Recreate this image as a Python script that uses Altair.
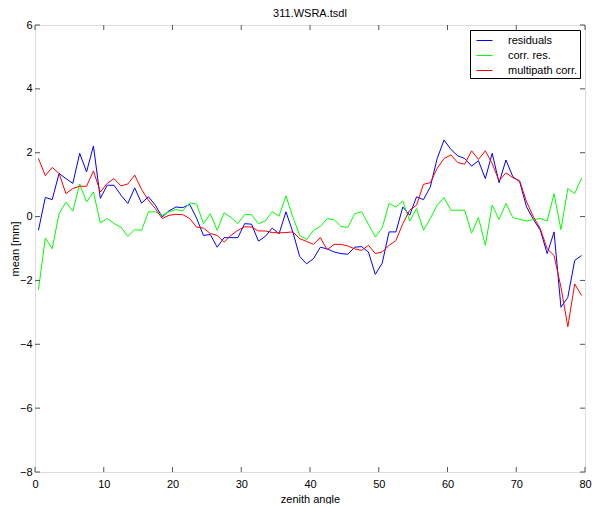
import altair as alt
import pandas as pd

# zenith angle bin centres
angles = [k + 0.5 for k in range(80)]

residuals = [
    -0.43, 0.60, 0.53, 1.35, 1.19, 1.04, 1.98, 1.40, 2.21, 0.57,
    0.98, 0.98, 0.67, 0.41, 0.90, 0.42, 0.62, 0.36, -0.01, 0.18,
    0.30, 0.28, 0.38, -0.05, -0.59, -0.56, -0.96, -0.66, -0.66, -0.66,
    -0.22, -0.24, -0.77, -0.62, -0.36, -0.54, 0.15, -0.48, -1.25, -1.48,
    -1.32, -0.96, -1.01, -1.11, -1.16, -1.18, -0.96, -0.94, -1.11, -1.81,
    -1.46, -0.48, -0.48, 0.30, 0.04, 0.62, 0.53, 0.93, 1.82, 2.40,
    2.10, 1.90, 1.82, 1.58, 1.75, 1.19, 1.98, 1.06, 1.77, 1.25,
    1.09, 0.30, -0.09, -0.43, -1.16, -0.48, -2.84, -2.53, -1.37, -1.22,
]

corr_res = [
    -2.30, -0.67, -1.01, 0.09, 0.45, 0.17, 1.02, 0.46, 0.77, -0.20,
    -0.06, -0.22, -0.33, -0.62, -0.41, -0.43, 0.15, 0.15, 0.04, 0.15,
    0.22, 0.18, 0.43, 0.39, -0.22, 0.09, -0.43, 0.12, -0.03, -0.22,
    0.07, 0.06, -0.22, -0.14, 0.15, 0.01, 0.65, -0.01, -0.59, -0.72,
    -0.43, -0.31, -0.06, -0.10, -0.31, -0.34, 0.09, 0.15, -0.24, -0.64,
    -0.35, 0.41, 0.30, 0.49, -0.14, 0.25, -0.43, -0.06, 0.36, 0.59,
    0.20, 0.20, 0.20, -0.52, -0.03, -0.90, 0.36, -0.09, 0.41, -0.03,
    -0.09, -0.14, -0.09, -0.06, -0.14, 0.72, -0.41, 0.88, 0.72, 1.21,
]

multipath_corr = [
    1.82, 1.28, 1.54, 1.35, 0.72, 0.88, 0.95, 0.95, 1.43, 0.77,
    1.04, 1.19, 0.96, 1.02, 1.30, 0.85, 0.51, 0.25, -0.06, 0.04,
    0.07, 0.06, -0.06, -0.33, -0.36, -0.53, -0.59, -0.80, -0.59, -0.43,
    -0.32, -0.33, -0.45, -0.45, -0.50, -0.51, -0.50, -0.48, -0.69, -0.78,
    -0.87, -0.66, -1.04, -0.87, -0.87, -0.92, -1.01, -1.06, -0.90, -1.16,
    -1.11, -0.90, -0.75, -0.22, 0.20, 0.36, 1.01, 1.06, 1.51, 1.82,
    1.93, 1.69, 1.64, 2.06, 1.79, 2.06, 1.66, 1.12, 1.37, 1.22,
    1.12, 0.46, -0.01, -0.38, -1.01, -1.22, -2.21, -3.45, -2.11, -2.47,
]

series_names = ["residuals", "corr. res.", "multipath corr."]
series_colors = ["#0000ff", "#00ff00", "#ff0000"]

x_ticks = [0, 10, 20, 30, 40, 50, 60, 70, 80]
y_ticks = [-8, -6, -4, -2, 0, 2, 4, 6]

W, H = 550, 447
FONT = "Liberation Sans"

rows = []
for name, vals in zip(series_names, [residuals, corr_res, multipath_corr]):
    for a, v in zip(angles, vals):
        rows.append({"x": a, "y": v, "series": name})
df = pd.DataFrame(rows)

xscale = alt.Scale(domain=[0, 80], nice=False, zero=False)
yscale = alt.Scale(domain=[-8, 6], nice=False, zero=False)

xaxis = alt.Axis(values=x_ticks, grid=False, ticks=False, domain=False, labelFlush=False,
                 labelPadding=6, labelFont=FONT, labelFontSize=11, labelColor="black",
                 title="zenith angle", titleFont=FONT, titleFontSize=11,
                 titleFontWeight="normal", titleColor="black",
                 titleY=30, titleBaseline="alphabetic")
yaxis = alt.Axis(values=y_ticks, grid=False, ticks=False, domain=False, labelFlush=False,
                 labelPadding=3, labelFont=FONT, labelFontSize=11, labelColor="black",
                 title="mean  [mm]", titleFont=FONT, titleFontSize=11,
                 titleFontWeight="normal", titleColor="black",
                 titleX=-17, titleY=H / 2, titleAlign="center", titleBaseline="alphabetic")

lines = alt.Chart(df).mark_line(strokeWidth=1, clip=True).encode(
    x=alt.X("x:Q", scale=xscale, axis=xaxis),
    y=alt.Y("y:Q", scale=yscale, axis=yaxis),
    color=alt.Color(
        "series:N",
        scale=alt.Scale(domain=series_names, range=series_colors),
        sort=series_names,
        legend=alt.Legend(
            title=None, orient="top-right", offset=5,
            strokeColor="black", fillColor="white", padding=2,
            symbolType="stroke", symbolSize=256, symbolStrokeWidth=1,
            symbolOffset=4,
            labelFont=FONT, labelFontSize=11, labelColor="black",
            labelOffset=15, rowPadding=1,
        ),
    ),
    detail="series:N",
)

xt = pd.DataFrame({"x": x_ticks})
yt = pd.DataFrame({"y": y_ticks})
tick_color = "#555555"

bottom_ticks = alt.Chart(xt).mark_rule(color=tick_color).encode(
    x=alt.X("x:Q", scale=xscale, axis=xaxis), y=alt.value(H), y2=alt.value(H - 5))
top_ticks = alt.Chart(xt).mark_rule(color=tick_color).encode(
    x=alt.X("x:Q", scale=xscale, axis=xaxis), y=alt.value(0), y2=alt.value(5))
left_ticks = alt.Chart(yt).mark_rule(color=tick_color).encode(
    y=alt.Y("y:Q", scale=yscale, axis=yaxis), x=alt.value(0), x2=alt.value(5))
right_ticks = alt.Chart(yt).mark_rule(color=tick_color).encode(
    y=alt.Y("y:Q", scale=yscale, axis=yaxis), x=alt.value(W), x2=alt.value(W - 5))

chart = alt.layer(lines, bottom_ticks, top_ticks, left_ticks, right_ticks).properties(
    width=W, height=H,
    title=alt.TitleParams("311.WSRA.tsdl", font=FONT, fontSize=11, fontWeight="normal",
                          color="black", anchor="middle", offset=0),
    autosize=alt.AutoSizeParams(type="none"),
    padding={"left": 27, "top": 17, "right": 7, "bottom": 32},
).configure_view(stroke="black", strokeWidth=1).configure(background="white")

chart.save("out.html", embed_options={"renderer": "svg", "actions": False})
